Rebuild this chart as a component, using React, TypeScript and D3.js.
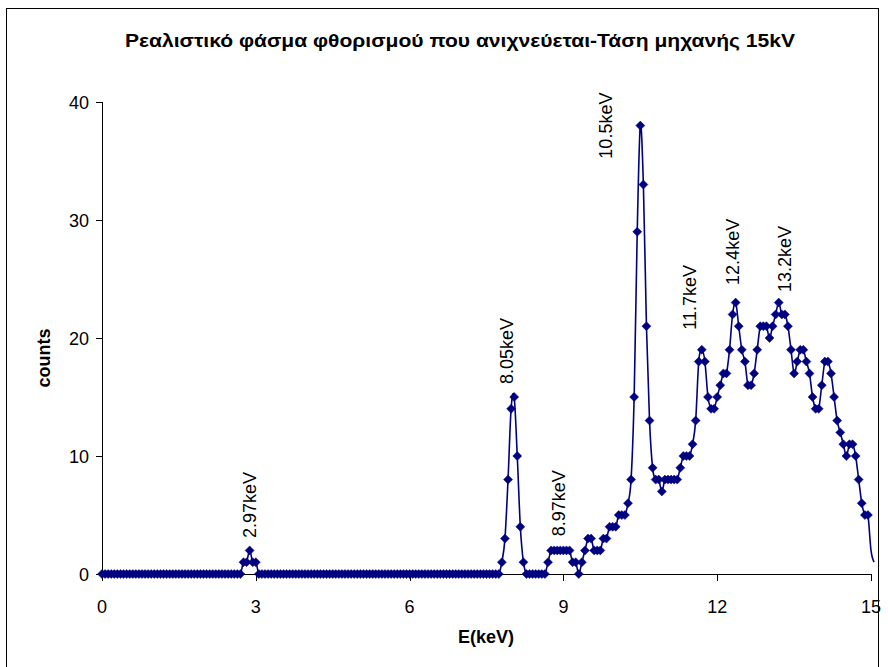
import React, { useEffect, useRef } from 'react';
import * as d3 from 'd3';

// channel width of the detector (keV per channel), channel 0 = 0 keV
const CHANNEL_KEV = 0.06;

// counts per channel
const counts = [
  // 0.00 - 2.70 keV
  0, 0, 0, 0, 0, 0, 0, 0, 0, 0, 0, 0, 0, 0, 0, 0, 0, 0, 0, 0,
  0, 0, 0, 0, 0, 0, 0, 0, 0, 0, 0, 0, 0, 0, 0, 0, 0, 0, 0, 0,
  0, 0, 0, 0, 0, 0,
  // ~2.9 keV
  1, 1, 2, 1, 1,
  // 3.06 - 7.74 keV
  0, 0, 0, 0, 0, 0, 0, 0, 0, 0, 0, 0, 0, 0, 0, 0, 0, 0, 0, 0,
  0, 0, 0, 0, 0, 0, 0, 0, 0, 0, 0, 0, 0, 0, 0, 0, 0, 0, 0, 0,
  0, 0, 0, 0, 0, 0, 0, 0, 0, 0, 0, 0, 0, 0, 0, 0, 0, 0, 0, 0,
  0, 0, 0, 0, 0, 0, 0, 0, 0, 0, 0, 0, 0, 0, 0, 0, 0, 0, 0,
  // ~8.05 keV
  1, 3, 8, 14, 15, 10, 4, 1,
  0, 0, 0, 0, 0, 0, 0,
  1, 2, 2, 2, 2, 2, 2, 2,
  1, 1, 0, 1, 2, 3, 3, 2, 2, 2,
  3, 3, 4, 4, 4, 5, 5, 5, 6, 8,
  // ~10.5 keV
  15, 29, 38, 33, 21, 13, 9, 8, 8, 7,
  8, 8, 8, 8, 8, 9, 10, 10, 10, 11,
  13, 18, 19, 18, 15, 14, 14, 15, 16, 17,
  17, 19, 22, 23, 21, 19, 18, 16, 16, 17,
  19, 21, 21, 21, 20, 21, 22, 23, 22, 22,
  21, 19, 17, 18, 19, 19, 18, 17, 15, 14,
  14, 16, 18, 18, 17, 15, 13, 12, 11, 10,
  11, 11, 10, 8, 6, 5, 5, 2, 1,
];

const xTicks = [0, 3, 6, 9, 12, 15];
const yTicks = [0, 10, 20, 30, 40];

const peakLabels = [
  { text: '2.97keV', e: 3.01, c: 3.05 },
  { text: '8.05keV', e: 8.01, c: 16.1 },
  { text: '8.97keV', e: 9.04, c: 3.2 },
  { text: '10.5keV', e: 9.94, c: 35.2 },
  { text: '11.7keV', e: 11.58, c: 20.7 },
  { text: '12.4keV', e: 12.42, c: 24.5 },
  { text: '13.2keV', e: 13.44, c: 23.9 },
];

const title = 'Ρεαλιστικό φάσμα φθορισμού που ανιχνεύεται-Τάση μηχανής 15kV';

const W = 888;
const H = 667;
const FONT = '"Liberation Sans", Arial, sans-serif';
const NAVY = '#000080';

const App: React.FC = () => {
  const svgRef = useRef<SVGSVGElement>(null);

  useEffect(() => {
    if (!svgRef.current) return;
    const svg = d3.select(svgRef.current);
    svg.html('');

    const margin = { top: 102, right: 17, bottom: 93, left: 102 };
    const x = d3.scaleLinear().domain([0, 15]).range([margin.left, W - margin.right]);
    const y = d3.scaleLinear().domain([0, 40]).range([H - margin.bottom, margin.top]);

    const points = counts.map((c, i) => ({ e: i * CHANNEL_KEV, c }));

    // chart border
    svg.append('rect')
      .attr('x', 6.5).attr('y', 8.5)
      .attr('width', 872).attr('height', 700)
      .attr('fill', 'white')
      .attr('stroke', '#000')
      .attr('stroke-width', 1);

    svg.append('text')
      .attr('x', 460).attr('y', 47)
      .attr('text-anchor', 'middle')
      .attr('textLength', 670)
      .attr('lengthAdjust', 'spacingAndGlyphs')
      .style('font-family', FONT)
      .style('font-weight', 'bold')
      .style('font-size', '17.5px')
      .text(title);

    // axes
    const axisColor = '#000';
    const gx = svg.append('g');
    gx.append('line')
      .attr('x1', x(0)).attr('x2', x(15))
      .attr('y1', y(0) + 0.5).attr('y2', y(0) + 0.5)
      .attr('stroke', axisColor);
    xTicks.forEach(t => {
      gx.append('line')
        .attr('x1', Math.round(x(t)) + 0.5).attr('x2', Math.round(x(t)) + 0.5)
        .attr('y1', y(0)).attr('y2', y(0) + 7)
        .attr('stroke', axisColor);
      gx.append('text')
        .attr('x', x(t)).attr('y', y(0) + 39)
        .attr('text-anchor', 'middle')
        .style('font-family', FONT)
        .style('font-size', '18px')
        .text(t);
    });

    const gy = svg.append('g');
    gy.append('line')
      .attr('x1', x(0) + 0.5).attr('x2', x(0) + 0.5)
      .attr('y1', y(40)).attr('y2', y(0))
      .attr('stroke', axisColor);
    yTicks.forEach(t => {
      gy.append('line')
        .attr('x1', x(0) - 6).attr('x2', x(0))
        .attr('y1', Math.round(y(t)) + 0.5).attr('y2', Math.round(y(t)) + 0.5)
        .attr('stroke', axisColor);
      gy.append('text')
        .attr('x', x(0) - 13).attr('y', y(t) + 6.5)
        .attr('text-anchor', 'end')
        .style('font-family', FONT)
        .style('font-size', '18px')
        .text(t);
    });

    svg.append('text')
      .attr('x', 486).attr('y', 643)
      .attr('text-anchor', 'middle')
      .style('font-family', FONT)
      .style('font-weight', 'bold')
      .style('font-size', '18px')
      .text('E(keV)');

    svg.append('text')
      .attr('transform', 'translate(50,358) rotate(-90)')
      .attr('text-anchor', 'middle')
      .style('font-family', FONT)
      .style('font-weight', 'bold')
      .style('font-size', '18px')
      .text('counts');

    // smoothed spectrum line
    const line = d3.line<{ e: number; c: number }>()
      .x(d => x(d.e))
      .y(d => y(d.c))
      .curve(d3.curveCatmullRom.alpha(0));

    svg.append('path')
      .datum(points)
      .attr('d', line)
      .attr('fill', 'none')
      .attr('stroke', NAVY)
      .attr('stroke-width', 1.6);

    // diamond markers (only inside the axis range)
    const r = 4.5;
    svg.append('g')
      .selectAll('path')
      .data(points.filter(p => p.e < 14.99))
      .enter()
      .append('path')
      .attr('d', `M0,${-r}L${r},0L0,${r}L${-r},0Z`)
      .attr('transform', d => `translate(${x(d.e)},${y(d.c)})`)
      .attr('fill', NAVY)
      .attr('stroke', NAVY)
      .attr('stroke-width', 0.5);

    // peak annotations
    svg.append('g')
      .selectAll('text')
      .data(peakLabels)
      .enter()
      .append('text')
      .attr('transform', d => `translate(${x(d.e)},${y(d.c)}) rotate(-90)`)
      .style('font-family', FONT)
      .style('font-size', '18px')
      .text(d => d.text);
  }, []);

  return (
    <div style={{ position: 'absolute', left: 0, top: 0, width: W, height: H, overflow: 'hidden', background: 'white' }}>
      <svg ref={svgRef} width={W} height={H} style={{ display: 'block' }} />
    </div>
  );
};

export default App;
